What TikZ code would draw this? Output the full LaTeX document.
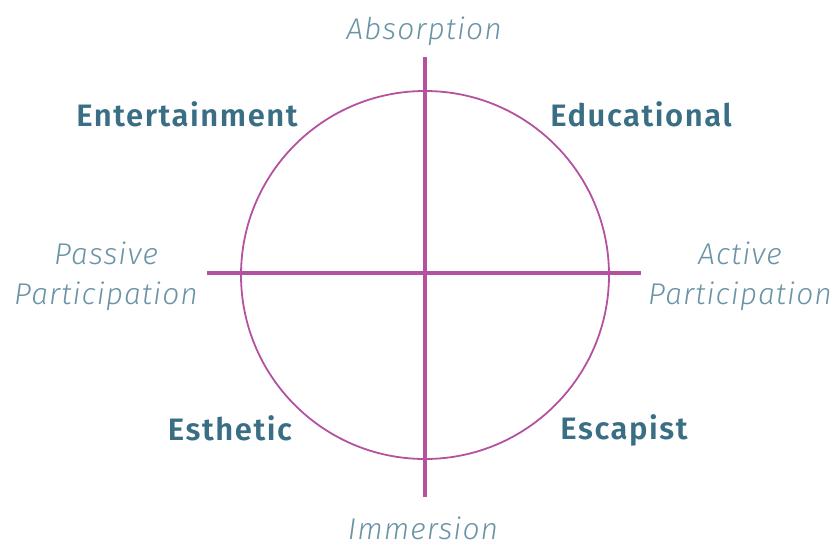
\documentclass[tikz,border=0pt]{standalone}
\usepackage{fontspec}
\setmainfont{Fira Sans}
\newfontfamily\realmfont{Fira Sans SemiBold}[LetterSpace=5]
\newfontfamily\dimfont{Fira Sans Light Italic}[LetterSpace=3.5]
\usepackage{xcolor}
\usetikzlibrary{positioning,calc}

\definecolor{axismag}{HTML}{B5529F}
\definecolor{realmteal}{HTML}{3A6E84}
\definecolor{dimteal}{HTML}{6A93A5}

\tikzset{
    realm/.style={text=realmteal, font=\realmfont\fontsize{31}{36}\selectfont},
    dimension/.style={text=dimteal, font=\dimfont\fontsize{30}{40}\selectfont, align=center, inner sep=1pt}
}

\begin{document}
\begin{tikzpicture}[x=1pt, y=-1pt]
    \useasboundingbox (0,0) rectangle (834,548);

    % Circle and axes
    \coordinate (centre) at (425,275);
    \draw[axismag, line width=1.8pt] (centre) circle (184);
    \draw[axismag, line width=3.5pt] (425,57) -- (425,497);
    \draw[axismag, line width=3.5pt] (207,273) -- (641,273);

    % Axis ends
    \node[dimension] (absorb) at (424,31) {Absorption};
    \node[dimension] (immerse) at (423,528) {Immersion};
    \node[dimension] (passive) at (106,276) {Passive\\Participation};
    \node[dimension] (active) at (740,276) {Active\\Participation};

    % The four realms
    \node[realm] (entertain) at (187,114) {Entertainment};
    \node[realm] (educate) at (641,114) {Educational};
    \node[realm] (esthetic) at (230,428) {Esthetic};
    \node[realm] (escape) at (624,430) {Escapist};
\end{tikzpicture}
\end{document}
